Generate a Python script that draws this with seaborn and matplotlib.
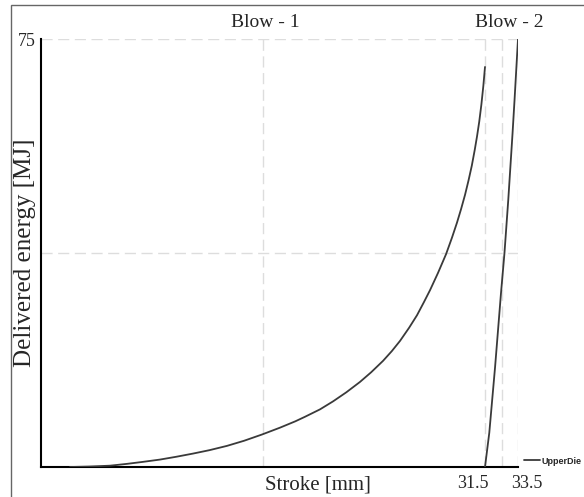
import pandas as pd
import seaborn as sns
from matplotlib import pyplot as plt
from matplotlib.patches import Rectangle
from matplotlib.transforms import ScaledTranslation, blended_transform_factory

# Blow 1 curve (stroke in mm, delivered energy in MJ)
blow1_stroke = [6.35, 7.5, 8.77, 9.8, 10.77, 11.80, 12.8, 13.80, 14.8, 15.86,
                16.9, 17.99, 19.08, 20.0, 20.59, 21.5, 22.29, 23.1, 23.92, 24.6,
                25.32, 25.85, 26.35, 26.9, 27.38, 27.8, 28.17, 28.65, 29.14,
                29.50, 29.80, 30.05, 30.29, 30.50, 30.70, 30.88, 31.02, 31.15,
                31.28, 31.40, 31.50]
blow1_energy = [0.0, 0.08, 0.23, 0.55, 0.9, 1.3, 1.8, 2.35, 2.95, 3.7,
                4.6, 5.7, 6.9, 8.0, 8.8, 10.1, 11.5, 13.1, 14.9, 16.6,
                18.6, 20.3, 22.1, 24.4, 26.6, 28.9, 31.0, 34.0, 37.3,
                40.2, 42.8, 45.2, 47.7, 50.2, 52.8, 55.6, 58.0, 60.5,
                63.5, 66.8, 70.1]

# Blow 2 curve
blow2_stroke = [31.50, 31.76, 32.11, 32.47, 32.68, 32.91, 33.17, 33.29, 33.50]
blow2_energy = [0.0, 6.0, 17.5, 30.5, 37.5, 46.8, 58.5, 64.3, 75.0]

x_ticks = [31.5, 33.5]
x_grid = [18.05, 31.5, 32.5, 33.5]
y_ticks = [37.5, 75]
blow_labels = ["Blow - 1", "Blow - 2"]
blow_label_pos = [18.17, 32.95]

sns.set_style("white")
plt.rcParams['font.family'] = ['Liberation Serif', 'DejaVu Serif']

fig = plt.figure(figsize=(5.84, 4.97), dpi=100)
ax = fig.add_axes([41/584, 1 - 467/497, 477/584, 428/497])

df1 = pd.DataFrame({"stroke": blow1_stroke, "energy": blow1_energy})
df2 = pd.DataFrame({"stroke": blow2_stroke, "energy": blow2_energy})
sns.lineplot(data=df1, x="stroke", y="energy", sort=False, estimator=None,
             color="#3a3a3a", lw=1.3, label="UpperDie", ax=ax, zorder=3)
sns.lineplot(data=df2, x="stroke", y="energy", sort=False, estimator=None,
             color="#3a3a3a", lw=1.3, ax=ax, zorder=3)

ax.set_xlim(4.59, 33.5)
ax.set_ylim(0, 75)

# dashed grid
for xv in x_grid:
    ax.axvline(xv, color="#dddddd", lw=1, ls=(0, (8, 4)), zorder=1)
for yv in y_ticks:
    ax.axhline(yv, color="#dddddd", lw=1, ls=(0, (8, 4)), zorder=1)

ax.set_xticks(x_ticks)
ax.set_xticklabels([str(v) for v in x_ticks], fontsize=13)
ax.set_yticks(y_ticks)
ax.set_yticklabels(["", "75"], fontsize=13)
ax.tick_params(axis="x", length=0, pad=6)
ax.tick_params(axis="y", length=0, pad=4)
shifts = [-12.5, 8.5]
for lab, dx in zip(ax.get_xticklabels(), shifts):
    lab.set_transform(lab.get_transform() + ScaledTranslation(dx/100, 0, fig.dpi_scale_trans))

ax.set_xlabel("Stroke [mm]", fontsize=15)
ax.xaxis.set_label_coords(0.581, -0.042)
ax.xaxis.label.set_va("center")
ax.set_ylabel("Delivered energy [MJ]", fontsize=18)
ax.yaxis.set_label_coords(-0.0335, 0.5)
ax.yaxis.label.set_va("center")

for sp in ["top", "right"]:
    ax.spines[sp].set_visible(False)
for sp in ["left", "bottom"]:
    ax.spines[sp].set_color("black")
    ax.spines[sp].set_linewidth(1.5)

trans = blended_transform_factory(ax.transData, ax.transAxes)
for txt, xp in zip(blow_labels, blow_label_pos):
    ax.text(xp, (467 - 22) / 428, txt, transform=trans, ha="center",
            va="center", fontsize=14, clip_on=False)

leg = ax.legend(loc="center left", bbox_to_anchor=(1.0, 0.014), frameon=False,
                handlelength=1.7, handletextpad=0.15, borderaxespad=0.3,
                prop={"family": "Liberation Sans", "size": 6.5, "weight": "bold"})

# outer frame
fig.add_artist(Rectangle((11/584, -0.1), 1.2, 1.1 - 5/497, transform=fig.transFigure,
                         fill=False, edgecolor="#666666", lw=1))

fig.savefig("out.png", dpi=100)
